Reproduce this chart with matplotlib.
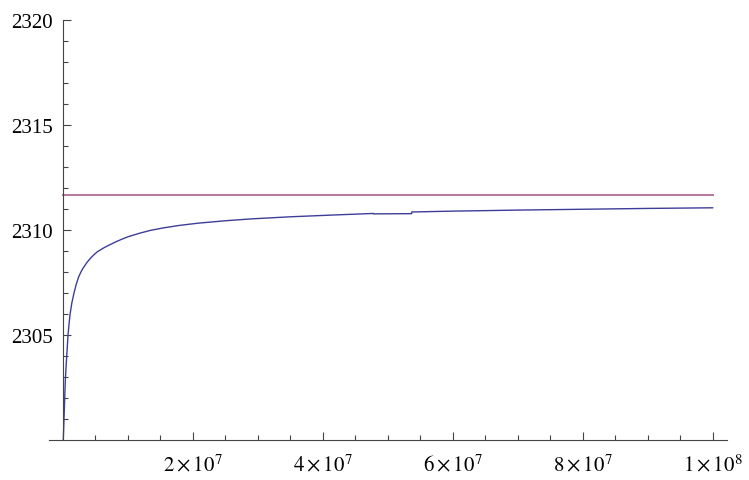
import matplotlib
matplotlib.use("Agg")
import matplotlib.pyplot as plt
from matplotlib.ticker import FixedLocator

# Data
curve_x = [1.2e5, 2.3e5, 3.4e5, 4.3e5, 5.3e5, 6.5e5, 8.5e5, 1.0e6, 1.15e6, 1.42e6,
           1.77e6, 2.1e6, 2.43e6, 2.8e6, 3.2e6, 3.8e6, 4.5e6, 5.3e6, 6.3e6, 7.3e6,
           8.3e6, 9.2e6, 1.01e7, 1.19e7, 1.35e7, 1.55e7, 1.8e7, 2.1e7, 2.5e7, 2.9e7,
           3.5e7, 4.2e7, 4.78e7, 4.78e7, 5.37e7, 5.37e7, 6.0e7, 7.0e7, 8.0e7, 9.0e7, 1.0e8]
curve_y = [2300.0, 2301.0, 2302.0, 2302.8, 2303.4, 2304.0, 2305.0, 2305.5, 2305.95, 2306.5,
           2307.0, 2307.4, 2307.72, 2307.98, 2308.2, 2308.47, 2308.72, 2308.95, 2309.14, 2309.3,
           2309.45, 2309.57, 2309.68, 2309.85, 2309.98, 2310.1, 2310.22, 2310.33, 2310.44, 2310.53,
           2310.63, 2310.72, 2310.79, 2310.77, 2310.78, 2310.86, 2310.9, 2310.95, 2310.99, 2311.03, 2311.06]
limit_x = [0.0, 1.0e8]
limit_y = [2311.68, 2311.68]

x_major = [2e7, 4e7, 6e7, 8e7, 1e8]
x_labels = [r"$2\times10^{7}$", r"$4\times10^{7}$", r"$6\times10^{7}$",
            r"$8\times10^{7}$", r"$1\times10^{8}$"]
y_major = [2305, 2310, 2315, 2320]

plt.rcParams["mathtext.fontset"] = "stix"
plt.rcParams["font.family"] = ["Liberation Serif", "DejaVu Serif"]

W, H = 749, 481
fig = plt.figure(figsize=(W / 100, H / 100), dpi=100)
left, right, bottom, top = 49, 727, 440.5, 21.5
ax = fig.add_axes([left / W, 1 - bottom / H, (right - left) / W, (bottom - top) / H])

ax.plot(curve_x, curve_y, color="#3D3D99", lw=1.0, solid_joinstyle="round")
ax.plot(limit_x, limit_y, color="#B87A9E", lw=1.5)

ax.set_xlim(-0.208e7, 10.22e7)
ax.set_ylim(2300, 2320)

for s in ["top", "right"]:
    ax.spines[s].set_visible(False)
ax.spines["left"].set_position(("data", 0))
for s in ["left", "bottom"]:
    ax.spines[s].set_linewidth(0.8)
    ax.spines[s].set_color("#444444")

ax.xaxis.set_major_locator(FixedLocator(x_major))
ax.set_xticklabels(x_labels)
ax.xaxis.set_minor_locator(FixedLocator([5e6 * i for i in range(1, 20) if i % 4 != 0]))
ax.yaxis.set_major_locator(FixedLocator(y_major))
ax.set_yticklabels([str(v) for v in y_major])
ax.yaxis.set_minor_locator(FixedLocator([v for v in range(2301, 2320) if v % 5 != 0]))

ax.tick_params(which="both", direction="in", color="#444444", width=0.8, labelsize=15)
ax.tick_params(axis="x", which="major", length=6, pad=10)
ax.tick_params(axis="x", which="minor", length=3.6)
ax.tick_params(axis="y", which="major", length=6, pad=7)
ax.tick_params(axis="y", which="minor", length=3.6)

fig.savefig("out.png", dpi=100)
